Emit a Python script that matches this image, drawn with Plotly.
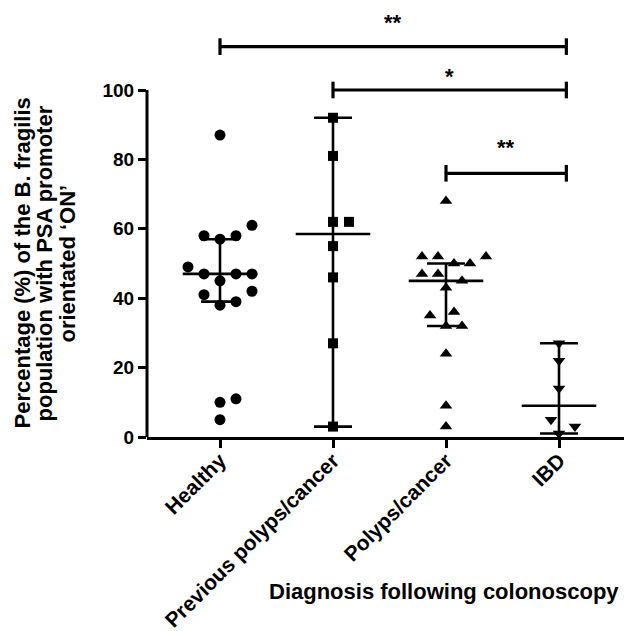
import plotly.graph_objects as go

# ---------------- data ----------------
categories = ["Healthy", "Previous polyps/cancer", "Polyps/cancer", "IBD"]
healthy = [87, 61, 58, 57, 58, 49, 47, 47, 47, 45, 41, 42, 38, 39, 11, 10, 5]
previous = [92, 81, 62, 62, 55, 46, 27, 3]
polyps = [68, 52, 52, 50, 50, 52, 47, 47, 45, 43, 36, 35, 32, 32, 24, 9, 3]
ibd = [27, 22, 14, 5, 3, 1]
medians = [47, 58.5, 45, 9]
err_low = [39, 3, 32, 1]
err_high = [57, 92, 50, 27]
y_ticks = [0, 20, 40, 60, 80, 100]
# significance comparisons: (from, to, bracket height, label height, label)
comp_from = [0, 1, 2]
comp_to = [3, 3, 3]
comp_height = [112.5, 100, 76]
comp_label_y = [121, 103.8, 83.5]
comp_label = ["**", "*", "**"]

groups = [healthy, previous, polyps, ibd]
symbols = ["circle", "square", "triangle-up", "triangle-down"]
msizes = [11, 10, 11, 11]

# ---------------- layout constants ----------------
# page body has an 8px default margin: compensate so the plot lands where the reference has it
OFF = 8
W, H = 632 - OFF, 631 - OFF
ML, MR, MT, MB = 147 - OFF, 0, 0, 194
PX_PER_UNIT = 3.47
plot_w = W - ML - MR
plot_h = H - MT - MB
Y_MAX = plot_h / PX_PER_UNIT
X_RANGE = [-0.646, 3.646]
px_per_cat = plot_w / (X_RANGE[1] - X_RANGE[0])
px_per_unit = plot_h / Y_MAX
FONT = "Liberation Sans"


def beeswarm(values, step_px=8.0, diam=14.5):
    placed = []
    offs = [0.0] * len(values)
    order = sorted(range(len(values)), key=lambda i: values[i])
    cands = [0] + [s * j for j in range(1, 30) for s in (1, -1)]
    for i in order:
        y = values[i] * px_per_unit
        x = 0.0
        for c in cands:
            x = c * step_px
            if all((x - a) ** 2 + (y - b) ** 2 >= diam ** 2 for a, b in placed):
                break
        placed.append((x, y))
        offs[i] = x / px_per_cat
    return offs


fig = go.Figure()

for gi, vals in enumerate(groups):
    offs = beeswarm(vals)
    fig.add_trace(go.Scatter(
        x=[gi + o for o in offs], y=vals, mode="markers",
        marker=dict(symbol=symbols[gi], size=msizes[gi], color="black",
                    line=dict(width=0)),
        cliponaxis=False, showlegend=False, hoverinfo="y"))

# error bars (vertical with caps)
fig.add_trace(go.Scatter(
    x=list(range(len(categories))), y=medians, mode="markers",
    marker=dict(size=1, color="rgba(0,0,0,0)"),
    error_y=dict(type="data", symmetric=False,
                 array=[h - m for h, m in zip(err_high, medians)],
                 arrayminus=[m - l for l, m in zip(err_low, medians)],
                 color="black", thickness=2.6, width=19),
    cliponaxis=False, showlegend=False, hoverinfo="skip"))

# median lines
mx, my = [], []
for i, m in enumerate(medians):
    mx += [i - 0.33, i + 0.33, None]
    my += [m, m, None]
fig.add_trace(go.Scatter(x=mx, y=my, mode="lines",
                         line=dict(color="black", width=2.6),
                         cliponaxis=False, showlegend=False, hoverinfo="skip"))

# significance brackets
bx, by = [], []
tick_h = 2.4
for a, b, h in zip(comp_from, comp_to, comp_height):
    xe = b + 0.065
    bx += [a, xe, None, a, a, None, xe, xe, None]
    by += [h, h, None, h - tick_h, h + tick_h, None, h - tick_h, h + tick_h, None]
fig.add_trace(go.Scatter(x=bx, y=by, mode="lines",
                         line=dict(color="black", width=3.2),
                         cliponaxis=False, showlegend=False, hoverinfo="skip"))

annotations = []
for a, b, ly, lab in zip(comp_from, comp_to, comp_label_y, comp_label):
    ann = dict(x=(a + b + 0.065) / 2, y=ly, xref="x", yref="y",
               text=lab, showarrow=False,
               font=dict(family=FONT, size=22, color="black", weight="bold"),
               yanchor="middle", xanchor="center")
    if ly > Y_MAX - 6:
        # keep the label box inside the page: anchor its top to the top edge
        ann.update(y=1, yref="paper", yanchor="top")
    annotations.append(ann)

# y-axis title (three lines)
ytitle = ["Percentage (%) of the B. fragilis",
          "population with PSA promoter",
          "orientated \u2018ON\u2019"]
for shift, t in zip([-125, -103, -80], ytitle):
    annotations.append(dict(x=0, y=50, xref="paper", yref="y", xshift=shift,
                            text=t, textangle=-90, showarrow=False,
                            font=dict(family=FONT, size=22, color="black", weight="bold"),
                            xanchor="center", yanchor="middle"))

# x-axis title (reference pixel centre 444, 591)
annotations.append(dict(x=(444 - OFF - ML) / plot_w, y=(H - MB - (591 - OFF)) / plot_h,
                        xref="paper", yref="paper",
                        text="Diagnosis following colonoscopy", showarrow=False,
                        font=dict(family=FONT, size=22, color="black", weight="bold"),
                        xanchor="center", yanchor="middle"))

fig.update_layout(
    width=W, height=H,
    margin=dict(l=ML, r=MR, t=MT, b=MB, pad=0, autoexpand=False),
    paper_bgcolor="white", plot_bgcolor="white",
    showlegend=False,
    annotations=annotations,
    shapes=[dict(type="line", xref="paper", yref="y", x0=0, x1=0, y0=0, y1=100,
                 line=dict(color="black", width=3), layer="above")],
)
fig.update_xaxes(range=X_RANGE, tickvals=list(range(len(categories))), ticktext=categories,
                 tickangle=-45, showgrid=False, zeroline=False, automargin=False,
                 showline=True, linecolor="black", linewidth=3,
                 ticks="outside", ticklen=8, tickwidth=3, tickcolor="black",
                 ticklabelstandoff=-8,
                 tickfont=dict(family=FONT, size=21, color="black", weight="bold"))
fig.update_yaxes(range=[0, Y_MAX], tickvals=y_ticks, showgrid=False, zeroline=False,
                 automargin=False,
                 showline=False, ticks="outside", ticklen=8, tickwidth=3, tickcolor="black",
                 tickfont=dict(family=FONT, size=19, color="black", weight="bold"))

fig.write_html("out.html")
